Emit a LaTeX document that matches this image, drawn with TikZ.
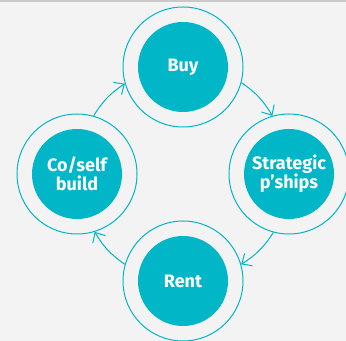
\documentclass[tikz,border=0pt]{standalone}
\usepackage{fontspec}
\setmainfont{Fira Sans}
\usetikzlibrary{positioning,arrows.meta}
\definecolor{ringteal}{RGB}{0,182,199}
\definecolor{pagegrey}{RGB}{243,243,243}
\definecolor{edgegrey}{RGB}{200,200,200}
\tikzset{every picture/.style={line width=0.75pt}}

\begin{document}
\begin{tikzpicture}[x=0.75pt,y=0.75pt,yscale=-1,xscale=1,
  core/.style={circle, fill=ringteal, text=white, minimum size=67.5pt, inner sep=0pt, align=center, font=\fontsize{13.5}{14}\selectfont\bfseries},
  ring/.style={circle, draw=ringteal, minimum size=90pt, inner sep=0pt},
  link/.style={ringteal, -{Straight Barb[length=6pt,width=11pt]}}]
%set diagram size 346 x 341
\fill[pagegrey] (0,0) rectangle (346,341);
\useasboundingbox (0,0) rectangle (346,341);
\draw[edgegrey, line width=1.2pt] (0,0.8) -- (346,0.8);

%Rings
\node[ring] (buyring) at (183,67) {};
\node[ring] (stratring) at (289,174) {};
\node[ring] (rentring) at (183,281) {};
\node[ring] (coring) at (77,174) {};

%Cores
\node[core] (buy) at (183,67) {Buy};
\node[core] (strat) at (289,174) {Strategic\\p’ships};
\node[core] (rent) at (183,281) {Rent};
\node[core] (co) at (77,174) {Co/self\\build};

%Links
\draw[link] (coring.74.7) to[bend right=12.4] (buyring.196.3);
\draw[link] (buyring.-15.3) to[bend right=12.4] (stratring.106.3);
\draw[link] (stratring.-105.3) to[bend right=12.4] (rentring.16.3);
\draw[link] (rentring.164.7) to[bend right=12.4] (coring.-73.7);

\end{tikzpicture}
\end{document}
